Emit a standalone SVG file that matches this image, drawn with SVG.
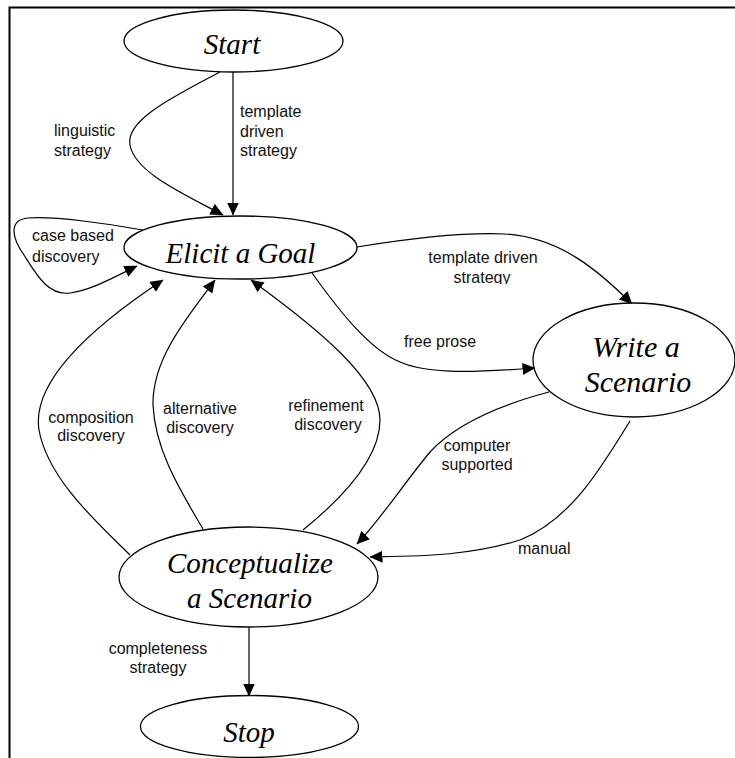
<svg xmlns="http://www.w3.org/2000/svg" width="735" height="758" viewBox="0 0 735 758">
<style>
.node ellipse{fill:#fff;stroke:#000;stroke-width:1.3}
.node text{font-family:"Liberation Serif","Times New Roman",serif;font-style:italic;font-size:29px;text-anchor:middle;fill:#000}
.edge{fill:none;stroke:#000;stroke-width:1.2;marker-end:url(#arr)}
.lbl{font-family:"Liberation Sans",Arial,sans-serif;font-size:16px;fill:#111}
.mid{text-anchor:middle}
</style>
<defs>
<marker id="arr" markerUnits="userSpaceOnUse" markerWidth="13" markerHeight="12" viewBox="0 0 13 12" refX="12.5" refY="6" orient="auto">
<path d="M0,0 L13,6 L0,12 z" fill="#000"/>
</marker>
<clipPath id="clipT"><rect x="400" y="240" width="170" height="44"/></clipPath>
</defs>
<rect width="735" height="758" fill="#fff"/>
<path d="M9.5,758 V7.5 H735" fill="none" stroke="#000" stroke-width="2"/>

<g id="connectors">
<path class="edge" d="M233,72 V215"/>
<path class="edge" d="M220,72 C175,96 125,120 130,145 C135,172 180,192 223,215"/>
<path class="edge" d="M143,230 C110,224 55,216 28,218 C8,220 12,238 24,255 C36,274 48,296 70,293 C92,290 112,278 137,266"/>
<path class="edge" d="M357,247 C400,240 460,232 505,234 C560,237 600,272 632,304"/>
<path class="edge" d="M312,273 C340,312 370,350 400,362 C430,375 480,372 535,368"/>
<path class="edge" d="M549,392 C500,405 455,425 430,452 C405,482 380,520 357,544"/>
<path class="edge" d="M630,421 C600,470 570,520 520,540 C470,556 420,556 370,557"/>
<path class="edge" d="M130,555 C100,525 48,480 39,430 C31,380 95,325 163,280"/>
<path class="edge" d="M203,529 C180,490 155,450 153,405 C152,360 185,320 215,280"/>
<path class="edge" d="M303,530 C340,500 380,460 380,420 C380,380 320,330 251,280"/>
<path class="edge" d="M249,627 V696"/>
<text class="lbl" x="240" y="117">template</text>
<text class="lbl" x="240" y="137">driven</text>
<text class="lbl" x="240" y="156">strategy</text>
<text class="lbl" x="54" y="136">linguistic</text>
<text class="lbl" x="54" y="156">strategy</text>
<text class="lbl" x="32" y="241">case based</text>
<text class="lbl" x="32" y="262">discovery</text>
<g clip-path="url(#clipT)">
<text class="lbl mid" x="483" y="263">template driven</text>
<text class="lbl mid" x="482" y="283">strategy</text>
</g>
<text class="lbl" x="404" y="347">free prose</text>
<text class="lbl mid" x="477" y="451">computer</text>
<text class="lbl mid" x="477" y="470">supported</text>
<text class="lbl" x="518" y="554">manual</text>
<text class="lbl mid" x="91" y="423">composition</text>
<text class="lbl mid" x="91" y="441">discovery</text>
<text class="lbl mid" x="200" y="414">alternative</text>
<text class="lbl mid" x="200" y="433">discovery</text>
<text class="lbl mid" x="326" y="411">refinement</text>
<text class="lbl mid" x="328" y="430">discovery</text>
<text class="lbl mid" x="158" y="654">completeness</text>
<text class="lbl mid" x="158" y="673">strategy</text>
</g>

<g id="start" class="node">
<ellipse cx="233.5" cy="41" rx="109.5" ry="31"/>
<text x="232" y="54">Start</text>
</g>
<g id="elicit" class="node">
<ellipse cx="240.5" cy="247.5" rx="116.5" ry="31.5"/>
<text x="240.5" y="263">Elicit a Goal</text>
</g>
<g id="write" class="node">
<ellipse cx="634" cy="360" rx="101" ry="57"/>
<text x="636" y="357" style="font-size:30px">Write a</text>
<text x="638" y="392" style="font-size:30px">Scenario</text>
</g>
<g id="conceptualize" class="node">
<ellipse cx="248.5" cy="577" rx="129.5" ry="50"/>
<text x="250" y="573">Conceptualize</text>
<text x="249.5" y="608">a Scenario</text>
</g>
<g id="stop" class="node">
<ellipse cx="249.5" cy="726.5" rx="109" ry="31"/>
<text x="249" y="742">Stop</text>
</g>
</svg>
